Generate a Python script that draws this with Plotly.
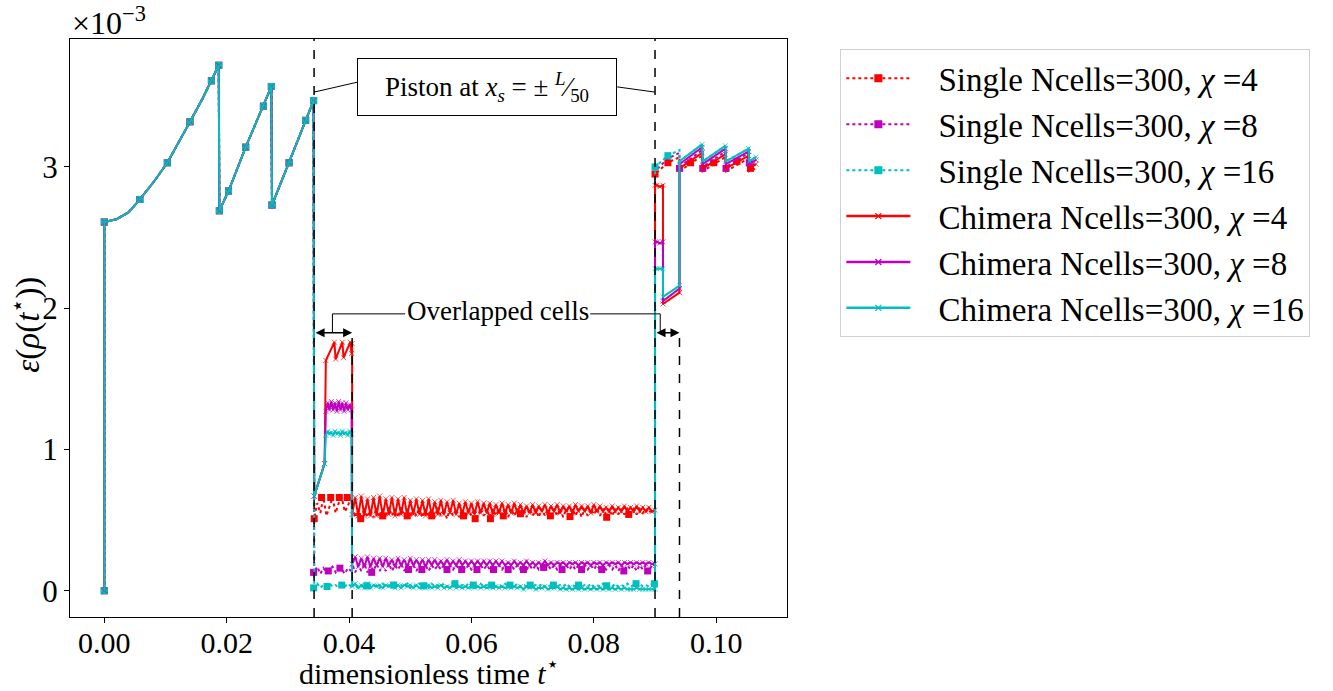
import plotly.graph_objects as go

# ---------------- data (y in units of 1e-3) ----------------
LEFT_T = [0.0000, 0.0000, 0.0020, 0.0040, 0.0058, 0.0080, 0.0103, 0.0120, 0.0140, 0.0160, 0.0175,
          0.0187, 0.0188, 0.0203, 0.0231, 0.0260, 0.0273, 0.0274, 0.0302, 0.0329, 0.0342]
LEFT_Y = [0.00, 2.61, 2.63, 2.68, 2.77, 2.89, 3.03, 3.16, 3.32, 3.48, 3.61,
          3.72, 2.69, 2.83, 3.14, 3.43, 3.57, 2.73, 3.03, 3.33, 3.47]

T_MID = [0.0405, 0.0410, 0.0415, 0.0420, 0.0425, 0.0430, 0.0435, 0.0440, 0.0445, 0.0450,
         0.0455, 0.0460, 0.0465, 0.0470, 0.0475, 0.0480, 0.0485, 0.0490, 0.0495, 0.0500,
         0.0505, 0.0510, 0.0515, 0.0520, 0.0525, 0.0530, 0.0535, 0.0540, 0.0545, 0.0550,
         0.0555, 0.0560, 0.0565, 0.0570, 0.0575, 0.0580, 0.0585, 0.0590, 0.0595, 0.0600,
         0.0605, 0.0610, 0.0615, 0.0620, 0.0625, 0.0630, 0.0635, 0.0640, 0.0645, 0.0650,
         0.0655, 0.0660, 0.0665, 0.0670, 0.0675, 0.0680, 0.0685, 0.0690, 0.0695, 0.0700,
         0.0705, 0.0710, 0.0715, 0.0720, 0.0725, 0.0730, 0.0735, 0.0740, 0.0745, 0.0750,
         0.0755, 0.0760, 0.0765, 0.0770, 0.0775, 0.0780, 0.0785, 0.0790, 0.0795, 0.0800,
         0.0805, 0.0810, 0.0815, 0.0820, 0.0825, 0.0830, 0.0835, 0.0840, 0.0845, 0.0850,
         0.0855, 0.0860, 0.0865, 0.0870, 0.0875, 0.0880, 0.0885, 0.0890, 0.0895, 0.0900]

# Chimera overlap region
CR_OV_T = [0.0343, 0.0360, 0.0362, 0.0376, 0.0378, 0.0389, 0.0391, 0.0402, 0.0404, 0.0405]
CR_OV_Y = [0.67, 0.90, 1.63, 1.76, 1.64, 1.76, 1.65, 1.76, 1.68, 1.75]
C_OV_T = [0.0343, 0.0360, 0.0362, 0.0365, 0.0368, 0.0371, 0.0374, 0.0377, 0.0380, 0.0383,
          0.0386, 0.0389, 0.0392, 0.0395, 0.0398, 0.0401, 0.0404]
CM_OV_Y = [0.67, 0.90, 1.27, 1.33, 1.28, 1.34, 1.28, 1.33, 1.27, 1.34,
           1.28, 1.33, 1.27, 1.33, 1.28, 1.32, 1.28]
CC_OV_Y = [0.67, 0.90, 1.10, 1.13, 1.11, 1.12, 1.10, 1.13, 1.11, 1.12,
           1.10, 1.13, 1.11, 1.12, 1.10, 1.13, 1.11]

CR_MID = [0.54, 0.66, 0.53, 0.67, 0.53, 0.65, 0.53, 0.66, 0.53, 0.67,
          0.53, 0.65, 0.54, 0.66, 0.53, 0.65, 0.54, 0.66, 0.53, 0.64,
          0.54, 0.65, 0.54, 0.64, 0.53, 0.65, 0.54, 0.63, 0.54, 0.64,
          0.54, 0.63, 0.55, 0.64, 0.54, 0.62, 0.54, 0.63, 0.55, 0.62,
          0.54, 0.63, 0.55, 0.62, 0.55, 0.62, 0.54, 0.61, 0.55, 0.62,
          0.55, 0.61, 0.55, 0.62, 0.55, 0.61, 0.55, 0.60, 0.55, 0.61,
          0.55, 0.60, 0.56, 0.61, 0.55, 0.60, 0.56, 0.61, 0.55, 0.60,
          0.56, 0.60, 0.55, 0.61, 0.56, 0.60, 0.56, 0.60, 0.55, 0.61,
          0.56, 0.60, 0.56, 0.59, 0.56, 0.60, 0.56, 0.59, 0.56, 0.60,
          0.56, 0.59, 0.56, 0.60, 0.56, 0.59, 0.56, 0.59, 0.56, 0.57]
CM_MID = [0.19, 0.24, 0.17, 0.23, 0.17, 0.24, 0.17, 0.23, 0.18, 0.23,
          0.17, 0.23, 0.18, 0.22, 0.17, 0.23, 0.18, 0.22, 0.17, 0.23,
          0.18, 0.22, 0.18, 0.22, 0.17, 0.22, 0.18, 0.22, 0.18, 0.21,
          0.18, 0.22, 0.18, 0.21, 0.18, 0.22, 0.18, 0.21, 0.18, 0.21,
          0.18, 0.21, 0.18, 0.21, 0.18, 0.21, 0.18, 0.21, 0.18, 0.21,
          0.18, 0.20, 0.18, 0.21, 0.18, 0.20, 0.18, 0.21, 0.18, 0.20,
          0.18, 0.20, 0.18, 0.21, 0.18, 0.20, 0.18, 0.20, 0.19, 0.20,
          0.18, 0.20, 0.19, 0.20, 0.18, 0.20, 0.19, 0.20, 0.18, 0.20,
          0.19, 0.20, 0.18, 0.20, 0.19, 0.20, 0.19, 0.20, 0.18, 0.20,
          0.19, 0.20, 0.19, 0.20, 0.19, 0.20, 0.19, 0.20, 0.19, 0.19]
CC_MID = [0.03, 0.05, 0.02, 0.04, 0.02, 0.05, 0.02, 0.04, 0.03, 0.04,
          0.02, 0.04, 0.03, 0.05, 0.02, 0.04, 0.02, 0.04, 0.03, 0.04,
          0.02, 0.04, 0.02, 0.03, 0.02, 0.04, 0.02, 0.03, 0.02, 0.04,
          0.02, 0.03, 0.02, 0.04, 0.02, 0.03, 0.02, 0.03, 0.02, 0.03,
          0.02, 0.03, 0.02, 0.03, 0.02, 0.03, 0.02, 0.03, 0.02, 0.03,
          0.02, 0.03, 0.02, 0.03, 0.02, 0.03, 0.01, 0.03, 0.02, 0.03,
          0.01, 0.02, 0.02, 0.03, 0.01, 0.02, 0.02, 0.03, 0.01, 0.02,
          0.01, 0.02, 0.01, 0.02, 0.01, 0.02, 0.01, 0.02, 0.01, 0.02,
          0.01, 0.02, 0.01, 0.02, 0.01, 0.02, 0.01, 0.02, 0.01, 0.02,
          0.01, 0.01, 0.01, 0.02, 0.01, 0.01, 0.01, 0.01, 0.01, 0.01]

C_R_T = [0.0900, 0.0903, 0.0908, 0.0913, 0.0913, 0.0940, 0.0940, 0.0977, 0.0978, 0.1015,
         0.1016, 0.1053, 0.1054, 0.1065]
CR_R_Y = [2.87, 2.87, 2.86, 2.87, 2.03, 2.11, 2.99, 3.10, 2.99, 3.09, 2.99, 3.08, 2.99, 3.02]
CM_R_Y = [2.47, 2.47, 2.46, 2.47, 2.05, 2.14, 3.02, 3.14, 3.02, 3.13, 3.02, 3.11, 3.02, 3.05]
CC_R_Y = [2.28, 2.28, 2.28, 2.28, 2.08, 2.16, 3.04, 3.16, 3.04, 3.15, 3.04, 3.13, 3.04, 3.07]

# Single series
S_OV_T = [0.0343, 0.0348, 0.0353, 0.0358, 0.0363, 0.0368, 0.0373, 0.0378, 0.0383, 0.0388,
          0.0393, 0.0398, 0.0403]
SR_OV_Y = [0.51, 0.62, 0.55, 0.66, 0.53, 0.60, 0.66, 0.55, 0.62, 0.66, 0.56, 0.60, 0.66]
SM_OV_Y = [0.13, 0.17, 0.12, 0.16, 0.13, 0.15, 0.17, 0.13, 0.16, 0.15, 0.12, 0.16, 0.14]
SC_OV_Y = [0.02, 0.05, 0.02, 0.04, 0.03, 0.05, 0.03, 0.04, 0.02, 0.04, 0.03, 0.05, 0.03]

SR_MID = [0.60, 0.52, 0.58, 0.51, 0.59, 0.52, 0.57, 0.52, 0.59, 0.52,
          0.58, 0.52, 0.59, 0.53, 0.58, 0.52, 0.59, 0.53, 0.58, 0.52,
          0.58, 0.53, 0.59, 0.52, 0.58, 0.53, 0.58, 0.52, 0.59, 0.53,
          0.58, 0.51, 0.58, 0.53, 0.58, 0.52, 0.58, 0.51, 0.58, 0.53,
          0.58, 0.52, 0.58, 0.53, 0.58, 0.52, 0.58, 0.53, 0.58, 0.53,
          0.58, 0.52, 0.58, 0.53, 0.58, 0.53, 0.58, 0.52, 0.58, 0.53,
          0.58, 0.52, 0.58, 0.53, 0.58, 0.53, 0.58, 0.53, 0.58, 0.52,
          0.58, 0.53, 0.58, 0.53, 0.58, 0.52, 0.58, 0.53, 0.58, 0.54,
          0.58, 0.53, 0.58, 0.54, 0.58, 0.53, 0.58, 0.54, 0.58, 0.54,
          0.58, 0.55, 0.58, 0.54, 0.58, 0.55, 0.58, 0.55, 0.58, 0.56]
SM_MID = [0.19, 0.13, 0.18, 0.14, 0.19, 0.13, 0.18, 0.14, 0.19, 0.14,
          0.18, 0.14, 0.19, 0.14, 0.18, 0.15, 0.19, 0.14, 0.18, 0.15,
          0.18, 0.14, 0.18, 0.15, 0.18, 0.14, 0.18, 0.15, 0.18, 0.15,
          0.18, 0.15, 0.18, 0.15, 0.18, 0.15, 0.18, 0.15, 0.18, 0.15,
          0.18, 0.15, 0.18, 0.15, 0.18, 0.15, 0.18, 0.15, 0.18, 0.15,
          0.18, 0.15, 0.18, 0.15, 0.18, 0.15, 0.18, 0.15, 0.18, 0.15,
          0.18, 0.15, 0.18, 0.16, 0.18, 0.15, 0.18, 0.15, 0.18, 0.15,
          0.18, 0.15, 0.18, 0.15, 0.18, 0.15, 0.18, 0.15, 0.18, 0.15,
          0.18, 0.15, 0.18, 0.15, 0.18, 0.15, 0.18, 0.14, 0.18, 0.15,
          0.18, 0.15, 0.18, 0.14, 0.18, 0.15, 0.18, 0.14, 0.18, 0.16]
SC_MID = [0.05, 0.02, 0.04, 0.03, 0.05, 0.02, 0.04, 0.03, 0.04, 0.02,
          0.05, 0.03, 0.04, 0.02, 0.05, 0.03, 0.04, 0.03, 0.05, 0.02,
          0.04, 0.03, 0.05, 0.03, 0.04, 0.02, 0.05, 0.03, 0.04, 0.03,
          0.05, 0.03, 0.04, 0.03, 0.05, 0.03, 0.04, 0.03, 0.05, 0.03,
          0.04, 0.03, 0.05, 0.03, 0.04, 0.03, 0.05, 0.03, 0.04, 0.03,
          0.05, 0.03, 0.04, 0.03, 0.05, 0.03, 0.04, 0.03, 0.05, 0.03,
          0.04, 0.03, 0.05, 0.03, 0.04, 0.03, 0.05, 0.03, 0.04, 0.03,
          0.05, 0.03, 0.04, 0.03, 0.05, 0.03, 0.04, 0.03, 0.05, 0.03,
          0.04, 0.03, 0.05, 0.03, 0.04, 0.03, 0.05, 0.03, 0.04, 0.03,
          0.05, 0.03, 0.04, 0.03, 0.05, 0.03, 0.04, 0.03, 0.05, 0.05]

S_R_T = [0.0900, 0.0921, 0.0940, 0.0940, 0.0977, 0.0978, 0.1015, 0.1016, 0.1053, 0.1054, 0.1065]
SR_R_Y = [2.95, 3.03, 3.07, 2.97, 3.08, 2.97, 3.07, 2.97, 3.06, 2.97, 2.99]
SM_R_Y = [2.97, 3.06, 3.10, 3.00, 3.12, 3.00, 3.11, 3.00, 3.10, 3.00, 3.03]
SC_R_Y = [3.00, 3.08, 3.12, 3.04, 3.16, 3.04, 3.15, 3.04, 3.13, 3.04, 3.07]

# square markers (single runs)
SR_SQ_T = [0.0343, 0.0355, 0.0370, 0.0384, 0.0397, 0.0419, 0.0455, 0.0495, 0.0535, 0.0587,
           0.0606, 0.0631, 0.0652, 0.0680, 0.0729, 0.0761, 0.0821, 0.0857, 0.0900, 0.0921,
           0.0958, 0.0996, 0.1034, 0.1056]
SR_SQ_Y = [0.51, 0.66, 0.66, 0.66, 0.66, 0.51, 0.53, 0.53, 0.53, 0.53,
           0.51, 0.51, 0.53, 0.545, 0.53, 0.525, 0.52, 0.54, 2.95, 3.03,
           3.03, 3.03, 3.04, 2.99]
SM_SQ_T = [0.0342, 0.0366, 0.0385, 0.0437, 0.0497, 0.0519, 0.0560, 0.0584, 0.0609, 0.0636,
           0.0660, 0.0685, 0.0718, 0.0748, 0.0780, 0.0813, 0.0849, 0.0888, 0.0940, 0.0978,
           0.1016, 0.1054]
SM_SQ_Y = [0.13, 0.14, 0.16, 0.13, 0.15, 0.15, 0.15, 0.15, 0.15, 0.15,
           0.15, 0.15, 0.165, 0.15, 0.15, 0.15, 0.14, 0.14, 2.99, 2.99,
           2.99, 3.03]
SC_SQ_T = [0.0342, 0.0364, 0.0388, 0.0429, 0.0473, 0.0522, 0.0573, 0.0603, 0.0633, 0.0663,
           0.0696, 0.0734, 0.0775, 0.0821, 0.0869, 0.0899, 0.0900, 0.0921]
SC_SQ_Y = [0.02, 0.03, 0.04, 0.035, 0.04, 0.035, 0.05, 0.04, 0.04, 0.04,
           0.04, 0.04, 0.04, 0.035, 0.05, 0.05, 3.00, 3.08]

LEGEND_NAMES = ["Single Ncells=300, <i>χ</i> =4", "Single Ncells=300, <i>χ</i> =8",
                "Single Ncells=300, <i>χ</i> =16", "Chimera Ncells=300, <i>χ</i> =4",
                "Chimera Ncells=300, <i>χ</i> =8", "Chimera Ncells=300, <i>χ</i> =16"]

# overlap / piston positions (dimensionless time)
PISTON_LEFT = 0.03428
OVERLAP_LEFT_END = 0.0405
PISTON_RIGHT = 0.0900
OVERLAP_RIGHT_END = 0.0940

# ---------------- styles ----------------
RED, MAG, CYA = "#ff0000", "#bf00bf", "#00bfbf"
FONT = "Liberation Serif"
LEFT_MARKS = [0, 1, 4, 6, 8, 10, 11, 12, 13, 14, 15, 16, 17, 18, 19, 20]
XR = [-0.00561, 0.11157]
YR = [-0.186, 3.906]

fig = go.Figure()

singles = [
    (S_OV_T, SR_OV_Y, SR_MID, SR_R_Y, SR_SQ_T, SR_SQ_Y, RED),
    (S_OV_T, SM_OV_Y, SM_MID, SM_R_Y, SM_SQ_T, SM_SQ_Y, MAG),
    (S_OV_T, SC_OV_Y, SC_MID, SC_R_Y, SC_SQ_T, SC_SQ_Y, CYA),
]
for ovt, ovy, mid, ry, sqt, sqy, col in singles:
    xs = LEFT_T + ovt + T_MID + S_R_T
    ys = LEFT_Y + ovy + mid + ry
    fig.add_trace(go.Scatter(x=xs, y=ys, mode="lines", showlegend=False, hoverinfo="skip",
                             line=dict(color=col, width=2, dash="dot")))
    mx = [LEFT_T[i] for i in LEFT_MARKS] + sqt
    my = [LEFT_Y[i] for i in LEFT_MARKS] + sqy
    fig.add_trace(go.Scatter(x=mx, y=my, mode="markers", showlegend=False, hoverinfo="skip",
                             marker=dict(symbol="square", size=7, color=col)))

chims = [
    (CR_OV_T, CR_OV_Y, CR_MID, CR_R_Y, RED),
    (C_OV_T, CM_OV_Y, CM_MID, CM_R_Y, MAG),
    (C_OV_T, CC_OV_Y, CC_MID, CC_R_Y, CYA),
]
for ovt, ovy, mid, ry, col in chims:
    xs = LEFT_T + ovt + T_MID + C_R_T
    ys = LEFT_Y + ovy + mid + ry
    sizes = [5 if i in LEFT_MARKS else 0 for i in range(len(LEFT_T))] + [5] * (len(xs) - len(LEFT_T))
    fig.add_trace(go.Scatter(x=xs, y=ys, mode="lines+markers", showlegend=False, hoverinfo="skip",
                             line=dict(color=col, width=2),
                             marker=dict(symbol="x-thin", size=sizes, color=col,
                                         line=dict(color=col, width=1))))

# legend entries
GAP = "\u2002\u2009"
for i, (name, col) in enumerate(zip(LEGEND_NAMES, [RED, MAG, CYA, RED, MAG, CYA])):
    if i < 3:
        fig.add_trace(go.Scatter(x=[None], y=[None], mode="lines+markers", name=GAP + name,
                                 line=dict(color=col, width=2, dash="dot"),
                                 marker=dict(symbol="square", size=8, color=col)))
    else:
        fig.add_trace(go.Scatter(x=[None], y=[None], mode="lines+markers", name=GAP + name,
                                 line=dict(color=col, width=2.5),
                                 marker=dict(symbol="x-thin", size=6, color=col,
                                             line=dict(color=col, width=1.2))))

Y_ARROW = 1.826
Y_CONN = 1.96
shapes = [
    dict(type="line", xref="x", yref="y", x0=PISTON_LEFT, x1=PISTON_LEFT, y0=YR[0], y1=YR[1],
         line=dict(color="black", width=1.5, dash="dash")),
    dict(type="line", xref="x", yref="y", x0=PISTON_RIGHT, x1=PISTON_RIGHT, y0=YR[0], y1=YR[1],
         line=dict(color="black", width=1.5, dash="dash")),
    dict(type="line", xref="x", yref="y", x0=OVERLAP_LEFT_END, x1=OVERLAP_LEFT_END, y0=YR[0], y1=Y_ARROW,
         line=dict(color="black", width=1.5, dash="dash")),
    dict(type="line", xref="x", yref="y", x0=OVERLAP_RIGHT_END, x1=OVERLAP_RIGHT_END, y0=YR[0], y1=Y_ARROW,
         line=dict(color="black", width=1.5, dash="dash")),
    # overlapped cells connectors
    dict(type="path", xref="x", yref="y",
         path=f"M 0.04916 {Y_CONN} L 0.03728 {Y_CONN} L 0.03728 {Y_ARROW}",
         line=dict(color="black", width=1)),
    dict(type="path", xref="x", yref="y",
         path=f"M 0.07941 {Y_CONN} L 0.09085 {Y_CONN} L 0.09085 {Y_ARROW}",
         line=dict(color="black", width=1)),
    # piston connectors
    dict(type="line", xref="x", yref="y", x0=0.04131, y0=3.60, x1=PISTON_LEFT, y1=3.53,
         line=dict(color="black", width=1)),
    dict(type="line", xref="x", yref="y", x0=0.08382, y0=3.567, x1=PISTON_RIGHT, y1=3.53,
         line=dict(color="black", width=1)),
]

annotations = [
    dict(xref="paper", yref="paper", x=0.0, y=1.0, xanchor="left", yanchor="bottom", yshift=-4,
         text="×10<sup>−3</sup>", showarrow=False, font=dict(family=FONT, size=32, color="black")),
    dict(xref="x", yref="y", x=0.06257, y=3.567,
         text="Piston at <i>x<sub>s</sub></i> = ± <sup><i>L</i></sup>⁄<sub>50</sub>",
         showarrow=False, font=dict(family=FONT, size=27, color="black"),
         width=242, height=40,
         bordercolor="black", borderwidth=1, borderpad=8, bgcolor="white"),
    dict(xref="x", yref="y", x=0.0643, y=Y_CONN, yshift=3, text="Overlapped cells", showarrow=False,
         font=dict(family=FONT, size=27, color="black")),
    dict(xref="x", yref="y", axref="x", ayref="y", x=OVERLAP_LEFT_END, y=Y_ARROW,
         ax=PISTON_LEFT, ay=Y_ARROW, text="", showarrow=True, arrowside="end+start",
         arrowhead=2, arrowsize=1.2, arrowwidth=1.5, arrowcolor="black", standoff=0, startstandoff=0),
    dict(xref="x", yref="y", axref="x", ayref="y", x=OVERLAP_RIGHT_END, y=Y_ARROW,
         ax=PISTON_RIGHT, ay=Y_ARROW, text="", showarrow=True, arrowside="end+start",
         arrowhead=2, arrowsize=1.2, arrowwidth=1.5, arrowcolor="black", standoff=0, startstandoff=0),
    # axis titles
    dict(xref="paper", yref="paper", x=0.501, y=-0.093, xanchor="center", yanchor="middle",
         text="dimensionless time <i>t</i><sup>⋆</sup>", showarrow=False,
         font=dict(family=FONT, size=30, color="black")),
    dict(xref="paper", yref="paper", x=-0.062, y=0.505, xanchor="center", yanchor="middle",
         text="<i>ε</i>(<i>ρ</i>(<i>t</i><sup>⋆</sup>))", showarrow=False, textangle=-90,
         font=dict(family=FONT, size=33, color="black")),
]

fig.update_layout(
    width=1333, height=691,
    margin=dict(l=70, r=546, t=39, b=74, autoexpand=False),
    paper_bgcolor="white", plot_bgcolor="white",
    font=dict(family=FONT, color="black"),
    shapes=shapes, annotations=annotations,
    legend=dict(x=1.0744, y=0.982, xanchor="left", yanchor="top",
                bordercolor="#d0d0d0", borderwidth=1, bgcolor="white",
                font=dict(family=FONT, size=33, color="black"),
                itemwidth=64, tracegroupgap=0),
)
fig.update_xaxes(range=XR, showline=True, mirror=True, linecolor="black", linewidth=1,
                 showgrid=False, zeroline=False, ticks="outside", ticklen=5, tickcolor="black",
                 tickvals=[0.0, 0.02, 0.04, 0.06, 0.08, 0.10],
                 ticktext=["0.00", "0.02", "0.04", "0.06", "0.08", "0.10"],
                 tickfont=dict(family=FONT, size=30), automargin=False, ticklabelstandoff=-6)
fig.update_yaxes(range=YR, showline=True, mirror=True, linecolor="black", linewidth=1,
                 showgrid=False, zeroline=False, ticks="outside", ticklen=5, tickcolor="black",
                 tickvals=[0, 1, 2, 3], ticktext=["0", "1", "2", "3"],
                 tickfont=dict(family=FONT, size=31), automargin=False)

fig.write_html("out.html", config={"displayModeBar": False},
               post_script="document.body.style.margin='0px';")
